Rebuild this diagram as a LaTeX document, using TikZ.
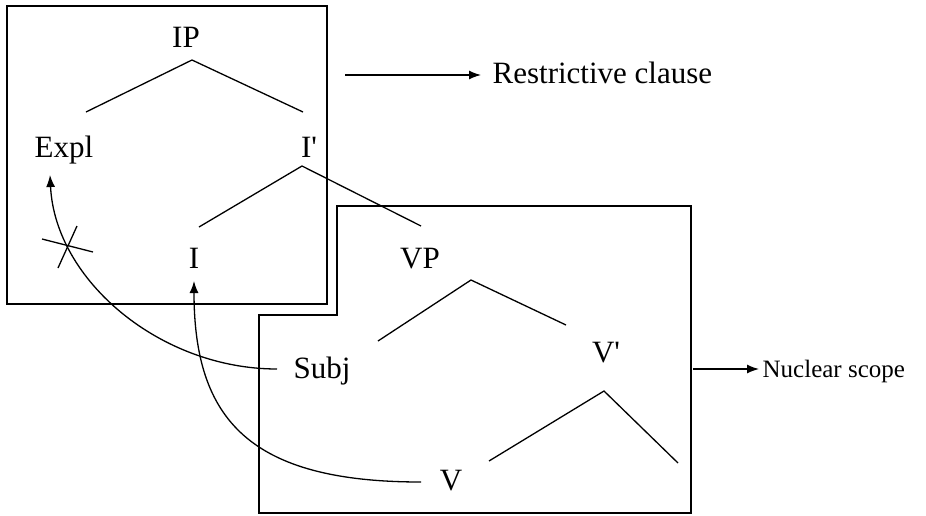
\documentclass[tikz,border=0pt]{standalone}
\usepackage{fontspec}
\setmainfont{Liberation Serif}
\usetikzlibrary{arrows.meta}
\newcommand{\pr}{\textquotesingle}
\begin{document}
\begin{tikzpicture}[x=1pt,y=-1pt,
  every path/.style={line width=1.3pt},
  lbl/.style={inner sep=0pt,anchor=base,font=\fontsize{31}{37}\selectfont},
  small/.style={inner sep=0pt,anchor=base west,font=\fontsize{25}{30}\selectfont},
  tip/.style={-{Latex[length=12pt,width=9pt]}},
  branch/.style={line width=1.3pt}]
\useasboundingbox (0,0) rectangle (926,515);

% frames
\draw (7,6) rectangle (327,304);
\draw (337,206) -- (691,206) -- (691,513) -- (259,513) -- (259,315) -- (337,315) -- cycle;

% labels of the tree
\node[lbl] (ip)   at (186,47)  {IP};
\node[lbl] (expl) at (64,157)  {Expl};
\node[lbl] (ibar) at (309,157) {I\pr};
\node[lbl] (i)    at (194,268) {I};
\node[lbl] (vp)   at (420,268) {VP};
\node[lbl] (subj) at (322,378) {Subj};
\node[lbl] (vbar) at (606,362) {V\pr};
\node[lbl] (v)    at (451,490) {V};

% branches
\draw[branch] (86,112) -- (192,60) -- (303,112);
\draw[branch] (199,227) -- (302,166) -- (421,226);
\draw[branch] (378,341) -- (471,280) -- (566,325);
\draw[branch] (489,461) -- (604,391) -- (678,463);

% side annotations
\coordinate (ra) at (345,75);
\node[lbl,anchor=base west] (rc) at (492,83) {Restrictive clause};
\draw[tip] (ra) -- ([xshift=-11pt]rc.west |- ra);
\coordinate (na) at (693,369);
\node[small] (ns) at (762,377) {Nuclear scope};
\draw[tip] (na) -- ([xshift=-3pt]ns.west |- na);

% movement arrows
\coordinate (s0) at (277,369);
\coordinate (e0) at (50,175);
\draw[tip] (s0) .. controls (160,369) and (55,280) .. (e0);
\coordinate (x0) at (42,239);
\coordinate (x1) at (93,252);
\coordinate (x2) at (77,226);
\coordinate (x3) at (58,268);
\draw (x0) -- (x1);
\draw (x2) -- (x3);

\coordinate (s1) at (421,482);
\coordinate (e1) at (194,281);
\draw[tip] (s1) .. controls (250,482) and (194,420) .. (e1);
\end{tikzpicture}
\end{document}
